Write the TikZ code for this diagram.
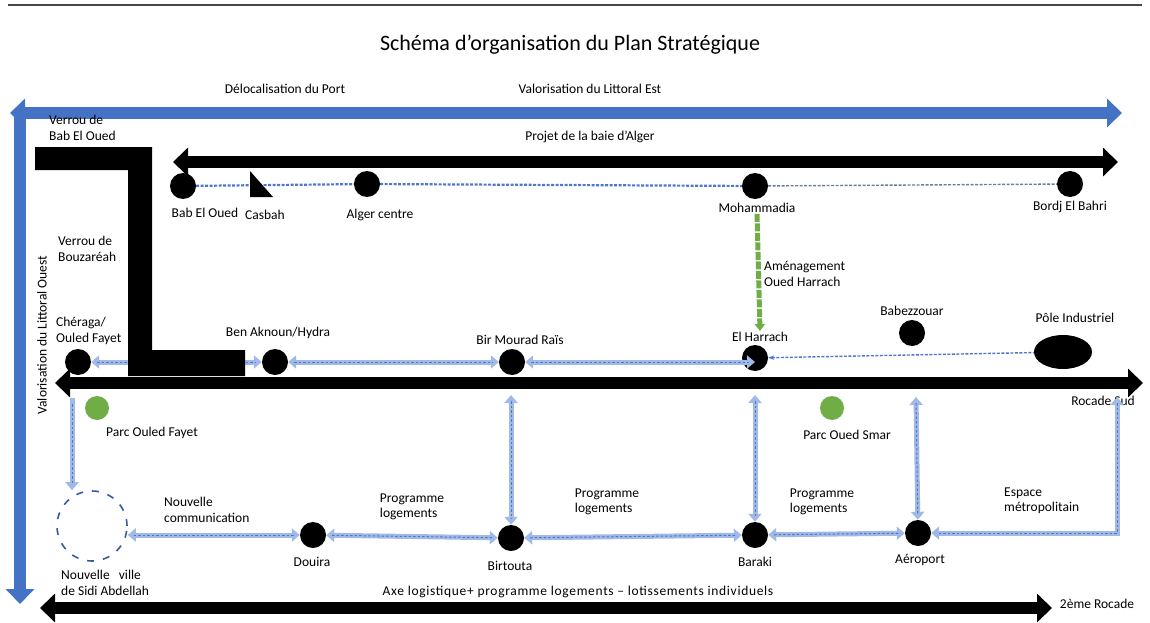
\documentclass[tikz,border=0pt]{standalone}
\usepackage{fontspec}
\setmainfont{Carlito}
\usetikzlibrary{positioning, arrows.meta, calc, backgrounds, shapes.geometric}
\definecolor{axeBlue}{RGB}{68,114,196}
\definecolor{linkBlue}{RGB}{160,185,230}
\definecolor{linkDash}{RGB}{80,120,200}
\definecolor{parcGreen}{RGB}{112,173,71}
\definecolor{frameGray}{RGB}{70,70,70}
\tikzset{
  every node/.style={font=\fontsize{13.5}{15.5}\selectfont, inner sep=1pt},
  LBL/.style={align=left},
  DOT/.style={circle, fill=black, minimum size=26pt, inner sep=0pt},
  PARC/.style={circle, fill=parcGreen, minimum size=24pt, inner sep=0pt},
  BIG/.style={line width=12pt, >={Triangle[length=15pt,width=28pt]}},
  LINK/.style={draw=linkBlue, line width=5pt, >={Triangle[length=8pt,width=13pt]},
    postaction={draw=linkDash, line width=1pt, dash pattern=on 2.5pt off 2pt, -,
      shorten <=6pt, shorten >=6pt}},
  THIN/.style={draw=linkDash, line width=2.2pt, dash pattern=on 3pt off 1.5pt},
  GRN/.style={draw=parcGreen, line width=5pt, dash pattern=on 8pt off 1.5pt,
    -{Triangle[length=7pt,width=10pt]}},
}

\begin{document}
\begin{tikzpicture}[x=1pt, y=1pt, yscale=-1]

\useasboundingbox (0,0) rectangle (1150,623);
\draw[frameGray, line width=2pt] (8,5) -- (1142,5);

%% Titre et axes principaux
\node[font=\fontsize{22}{26}\selectfont] (TITLE) at (570,45)
  {Schéma d'organisation du Plan Stratégique};
\node (tDEL) at (285,89) {Délocalisation du Port};
\node (tVLE) at (590,89) {Valorisation du Littoral Est};
\node (tBAIE) at (590,137) {Projet de la baie d'Alger};

\coordinate (blW) at (10,113);
\coordinate (blE) at (1122,113);
\coordinate (blS) at (20,604);
\draw[BIG, axeBlue, <->] (blW) -- (blE);
\draw[BIG, axeBlue, ->] (20,110) -- (blS);
\node[rotate=90] (tVLO) at (42,335) {Valorisation du Littoral Ouest};

\coordinate (baW) at (173,162);
\coordinate (baE) at (1118,162);
\draw[BIG, black, <->] (baW) -- (baE);

%% Ligne 1 : front de mer
\node[DOT] (BEO) at (183,186) {};
\node[DOT] (ALC) at (367,184) {};
\node[DOT] (MOH) at (755,186) {};
\node[DOT] (BEB) at (1070,184) {};

\node (lBEO) at (205,213) {Bab El Oued};
\node (lCAS) at (265,215) {Casbah};
\node (lALC) at (380,215) {Alger centre};
\node (lMOH) at (757,208) {Mohammadia};
\node (lBEB) at (1070,207) {Bordj El Bahri};

\draw[THIN] (BEO) -- (ALC);
\draw[THIN] (ALC) -- (MOH);
\draw[THIN, draw=gray!60!linkDash, line width=1.4pt] (MOH) -- (BEB);
\fill (250,171) -- (250,197) -- (273,197) -- cycle;

\node[LBL, anchor=west] (lVBE) at (48,128) {Verrou de\\Bab El Oued};
\node[LBL, anchor=west] (lVBZ) at (57,249) {Verrou de\\Bouzaréah};

%% Ligne 2 : rocade sud
\node[DOT] (CHE) at (78,362) {};
\node[DOT] (BAK) at (275,362) {};
\node[DOT] (BMR) at (512,362) {};
\node[DOT] (ELH) at (755,358) {};
\node[DOT] (BEZ) at (912,333) {};
\node[ellipse, fill=black, minimum width=58pt, minimum height=34pt] (POLE) at (1063,352) {};

\node[LBL, anchor=west] (lCHE) at (55,331) {Chéraga/\\Ouled Fayet};
\node (lBAK) at (278,333) {Ben Aknoun/Hydra};
\node (lBMR) at (520,340) {Bir Mourad Raïs};
\node (lELH) at (760,337) {El Harrach};
\node (lBEZ) at (912,311) {Babezzouar};
\node (lPOLE) at (1075,318) {Pôle Industriel};

\draw[GRN] (lMOH.south) -- (lELH.north);
\node[LBL, anchor=west] (lAOH) at (763,274) {Aménagement\\Oued Harrach};

\draw[LINK, <->] (CHE) -- (BAK);
\draw[LINK, <->] (BAK) -- (BMR);
\draw[LINK, <->] (BMR) -- (ELH |- BMR);
\draw[THIN, line width=1.4pt, <-, >={Stealth[length=6pt]}] (ELH) -- (POLE);

\fill (35,147) -- (152,147) -- (152,350) -- (245,350) -- (245,376)
  -- (128,376) -- (128,170) -- (35,170) -- cycle;

\coordinate (rsW) at (55,383);
\coordinate (rsE) at (1143,383);
\draw[BIG, black, <->] (rsW) -- (rsE);
\node (lRS) at (1103,401) {Rocade Sud};

\node[PARC] (POF) at (97,408) {};
\node[PARC] (POS) at (832,408) {};
\node (lPOF) at (152,433) {Parc Ouled Fayet};
\node (lPOS) at (847,435) {Parc Oued Smar};

%% Ligne 3 : extension sud
\node[circle, draw=axeBlue!80!black, line width=1.6pt, dash pattern=on 7pt off 9pt,
  minimum size=70pt] (NV) at (92,526) {};
\node[DOT] (DOU) at (313,535) {};
\node[DOT] (BIR) at (511,538) {};
\node[DOT] (BAR) at (755,535) {};
\node[DOT] (AER) at (918,533) {};

\node[LBL, anchor=west] (lNV) at (60,583) {Nouvelle \ \ ville\\de Sidi Abdellah};
\node (lDOU) at (312,562) {Douira};
\node (lBIR) at (510,566) {Birtouta};
\node (lBAR) at (755,562) {Baraki};
\node (lAER) at (920,560) {Aéroport};

\node[LBL, anchor=west] (lNC) at (163,510) {Nouvelle\\communication};
\node[LBL] (lPL1) at (412,507) {Programme\\logements};
\node[LBL] (lPL2) at (607,502) {Programme\\logements};
\node[LBL] (lPL3) at (822,502) {Programme\\logements};
\node[LBL, anchor=west] (lEM) at (1003,501) {Espace\\métropolitain};

\draw[LINK, <->] (NV.east |- DOU) -- (DOU);
\draw[LINK, <->] (DOU) -- (BIR);
\draw[LINK, <->] (BIR) -- (BAR);
\draw[LINK, <->] (BAR) -- (AER);

\coordinate (vOF) at (72,398);
\coordinate (vBMR) at (511,395);
\coordinate (vELH) at (755,395);
\coordinate (vAER) at (916,397);
\coordinate (vEM) at (1117,397);
\draw[LINK, ->] (vOF) -- (vOF |- NV.north);
\draw[LINK, <->] (vBMR) -- (BIR);
\draw[LINK, <->] (vELH) -- (BAR);
\draw[LINK, <->] (vAER) -- (AER);
\draw[LINK, <->] (vEM) |- (AER);

%% Axe logistique
\coordinate (alW) at (40,608);
\coordinate (alE) at (1052,608);
\draw[BIG, black, <->] (alW) -- (alE);
\node[font=\fontsize{13.5}{15.5}\selectfont\addfontfeature{LetterSpace=5}] (lAL) at (578,592)
  {Axe logistique+ programme logements -- lotissements individuels};
\node (lR2) at (1097,604) {2ème Rocade};

\end{tikzpicture}
\end{document}
